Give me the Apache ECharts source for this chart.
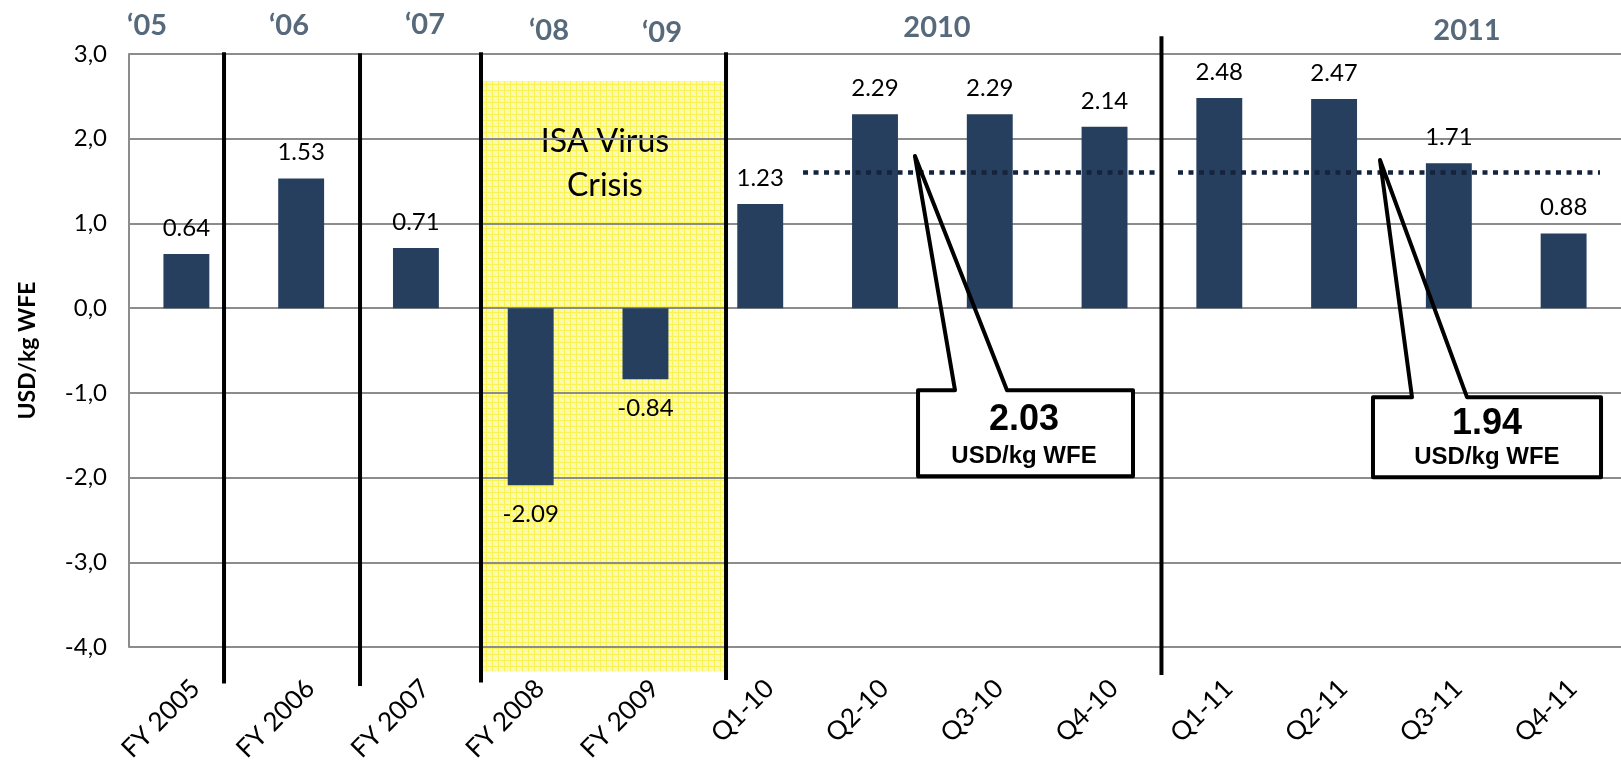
<!DOCTYPE html>
<html>
<head>
<meta charset="utf-8">
<title>USD/kg WFE</title>
<script src="https://cdn.jsdelivr.net/npm/echarts@6/dist/echarts.min.js"></script>
<style>
  html, body { margin: 0; padding: 0; background: #fff; }
  #chart { width: 1621px; height: 760px; }
</style>
</head>
<body>
<div id="chart"></div>
<script>
  // 数据
  const categories = ['FY 2005', 'FY 2006', 'FY 2007', 'FY 2008', 'FY 2009',
    'Q1-10', 'Q2-10', 'Q3-10', 'Q4-10', 'Q1-11', 'Q2-11', 'Q3-11', 'Q4-11'];
  const values = [0.64, 1.53, 0.71, -2.09, -0.84, 1.23, 2.29, 2.29, 2.14, 2.48, 2.47, 1.71, 0.88];
  const periodLabels = ['‘05', '‘06', '‘07', '‘08', '‘09', '2010', '2011'];
  const crisisText = 'ISA Virus\nCrisis';
  const averages = ['2.03', '1.94'];
  const averageUnit = 'USD/kg WFE';
  const averageLevel = 1.6;   // 虚线所在高度（图上读数）
  const yName = 'USD/kg WFE';
  const yMin = -4, yMax = 3, yStep = 1;

  // 版式（x 以类目序号为单位，y 为数值）
  const periodPos = [[0.157, 3.33], [1.394, 3.33], [2.579, 3.35], [3.659, 3.28], [4.644, 3.25], [7.04, 3.31], [11.658, 3.27]];
  const dividers = [[0.828, 3.02, -4.43], [2.013, 3.01, -4.46], [3.067, 3.02, -4.42], [5.202, 3.02, -4.39], [8.996, 3.21, -4.33]];
  const band = [3.076, 5.202, 2.68, -4.29];
  const bandTextPos = [4.147, 1.71];
  const avgSegments = [[5.873, 8.975], [9.14, 12.817]];
  const callouts = [
    { box: [6.875, 8.748, -0.968, -1.984], base: [7.197, 7.650], tip: [6.848, 1.795], text: [7.798, -1.317, -1.748] },
    { box: [10.839, 12.826, -1.051, -1.996], base: [11.179, 11.658], tip: [10.900, 1.748], text: [11.832, -1.364, -1.766] }
  ];

  // 黄色网格底纹
  function makePattern() {
    const c = document.createElement('canvas');
    c.width = 6; c.height = 6;
    const g = c.getContext('2d');
    g.fillStyle = '#fcfa9a';
    g.fillRect(0, 0, 6, 6);
    g.fillStyle = '#f8f254';
    g.fillRect(0, 0, 6, 1);
    g.fillRect(0, 0, 1, 6);
    g.fillStyle = '#fdfcc8';
    g.fillRect(2, 2, 1, 1);
    g.fillRect(4, 4, 1, 1);
    return c;
  }

  const myChart = echarts.init(document.getElementById('chart'));
  const ff = 'Lato, "Open Sans", sans-serif';

  myChart.setOption({
    animation: false,
    textStyle: { fontFamily: ff },
    grid: { left: 129, right: 0, top: 54, bottom: 113, outerBoundsMode: 'none', containLabel: false },
    xAxis: [
      {
        type: 'category',
        data: categories,
        axisLine: { show: false, onZero: false },
        axisTick: { show: false },
        axisLabel: { rotate: 45, margin: 28, fontSize: 26, color: '#000', fontFamily: ff, interval: 0, verticalAlign: 'top' }
      },
      { type: 'value', min: 0, max: categories.length, show: false }
    ],
    yAxis: {
      type: 'value',
      min: yMin, max: yMax, interval: yStep,
      name: yName,
      nameLocation: 'middle',
      nameGap: 90,
      nameTextStyle: { fontSize: 23, fontWeight: 'bold', color: '#000', fontFamily: ff },
      axisLine: { show: true, lineStyle: { color: '#8c8c8c', width: 2 } },
      axisTick: { show: false },
      axisLabel: {
        margin: 22, fontSize: 24, color: '#000', fontFamily: ff,
        formatter: v => v.toFixed(1).replace('.', ',')
      },
      splitLine: { lineStyle: { color: '#8c8c8c', width: 2 } }
    },
    series: [
      {
        // 危机区域底色
        type: 'custom', xAxisIndex: 1, yAxisIndex: 0, z: -1, clip: false, silent: true,
        data: [[band[0], band[2], band[1], band[3]]],
        renderItem: (params, api) => {
          const p1 = api.coord([api.value(0), api.value(1)]);
          const p2 = api.coord([api.value(2), api.value(3)]);
          const t = api.coord(bandTextPos);
          return {
            type: 'group',
            children: [
              { type: 'rect', shape: { x: p1[0], y: p1[1], width: p2[0] - p1[0], height: p2[1] - p1[1] },
                style: { fill: { image: makePattern(), repeat: 'repeat' } } },
              { type: 'text', z2: 10, style: { text: crisisText, x: t[0], y: t[1], align: 'center', verticalAlign: 'middle',
                  font: '32px ' + ff, lineHeight: 44, fill: '#000' } }
            ]
          };
        }
      },
      {
        type: 'bar',
        xAxisIndex: 0, yAxisIndex: 0,
        barWidth: '40%',
        itemStyle: { color: '#273f5e' },
        label: {
          show: true, color: '#000', fontSize: 24, fontFamily: ff,
          formatter: p => p.value.toFixed(2)
        },
        data: values.map(v => ({
          value: v,
          label: { position: v < 0 ? 'bottom' : 'top', distance: v < 0 ? 17 : 14 }
        }))
      },
      {
        // 平均值虚线
        type: 'custom', xAxisIndex: 1, yAxisIndex: 0, z: 3, clip: false, silent: true,
        data: avgSegments.map(s => [s[0], averageLevel, s[1]]),
        renderItem: (params, api) => {
          const a = api.coord([api.value(0), api.value(1)]);
          const b = api.coord([api.value(2), api.value(1)]);
          return { type: 'line', shape: { x1: a[0], y1: a[1], x2: b[0], y2: b[1] },
            style: { stroke: '#15233d', lineWidth: 4.5, lineDash: [5, 5.5] } };
        }
      },
      {
        // 分隔竖线
        type: 'custom', xAxisIndex: 1, yAxisIndex: 0, z: 4, clip: false, silent: true,
        data: dividers,
        renderItem: (params, api) => {
          const a = api.coord([api.value(0), api.value(1)]);
          const b = api.coord([api.value(0), api.value(2)]);
          return { type: 'line', shape: { x1: a[0], y1: a[1], x2: b[0], y2: b[1] },
            style: { stroke: '#000', lineWidth: 4 } };
        }
      },
      {
        // 年份标题
        type: 'custom', xAxisIndex: 1, yAxisIndex: 0, z: 4, clip: false, silent: true,
        data: periodPos,
        renderItem: (params, api) => {
          const p = api.coord([api.value(0), api.value(1)]);
          return { type: 'text', style: { text: periodLabels[params.dataIndex], x: p[0], y: p[1],
            align: 'center', verticalAlign: 'middle', font: 'bold 29px ' + ff, fill: '#566a7c' } };
        }
      },
      {
        // 标注框
        type: 'custom', xAxisIndex: 1, yAxisIndex: 0, z: 5, clip: false, silent: true,
        data: callouts.map(c => c.tip),
        renderItem: (params, api) => {
          const c = callouts[params.dataIndex];
          const tl = api.coord([c.box[0], c.box[2]]);
          const br = api.coord([c.box[1], c.box[3]]);
          const bl = api.coord([c.base[0], c.box[2]]);
          const brr = api.coord([c.base[1], c.box[2]]);
          const tip = api.coord(c.tip);
          const t1 = api.coord([c.text[0], c.text[1]]);
          const t2 = api.coord([c.text[0], c.text[2]]);
          return {
            type: 'group',
            children: [
              { type: 'rect', shape: { x: tl[0], y: tl[1], width: br[0] - tl[0], height: br[1] - tl[1] },
                style: { fill: '#fff' } },
              { type: 'polygon', shape: { points: [
                  [tl[0], tl[1]], [bl[0], tl[1]], tip, [brr[0], tl[1]], [br[0], tl[1]],
                  [br[0], br[1]], [tl[0], br[1]]] },
                style: { fill: null, stroke: '#000', lineWidth: 4, lineJoin: 'round' } },
              { type: 'text', style: { text: averages[params.dataIndex], x: t1[0], y: t1[1], align: 'center',
                  verticalAlign: 'middle', font: 'bold 36px "Liberation Sans", Arial, sans-serif', fill: '#000' } },
              { type: 'text', style: { text: averageUnit, x: t2[0], y: t2[1], align: 'center',
                  verticalAlign: 'middle', font: 'bold 24px "Liberation Sans", Arial, sans-serif', fill: '#000' } }
            ]
          };
        }
      }
    ]
  });
</script>
</body>
</html>
